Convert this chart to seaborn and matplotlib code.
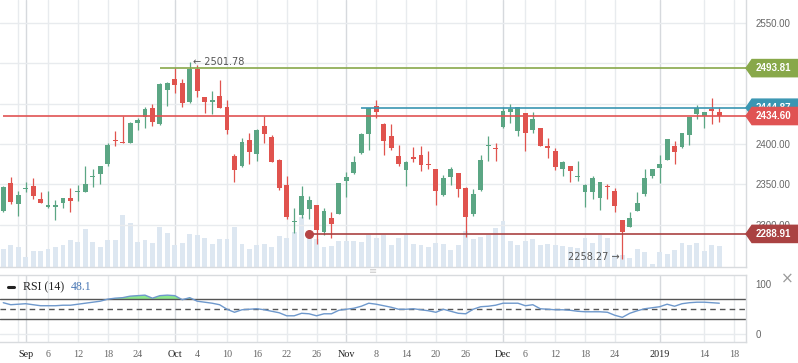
import numpy as np
import pandas as pd
import seaborn as sns
import matplotlib.pyplot as plt
from matplotlib.lines import Line2D
from matplotlib.patches import Polygon

# daily candles, one per trading day (Aug 29 2018 .. Jan 16 2019)
opens = [2316.9, 2352.3, 2326.3, 2344.0, 2348.6, 2332.5, 2321.8, 2321.8, 2326.8, 2333.7,
         2340.8, 2340.3, 2358.9, 2362.6, 2374.9, 2404.9, 2402.5, 2401.6, 2426.3, 2433.3,
         2444.9, 2424.3, 2466.3, 2480.7, 2475.7, 2451.4, 2493.0, 2458.4, 2451.4, 2459.7,
         2446.1, 2385.6, 2372.4, 2404.9, 2387.2, 2422.6, 2409.0, 2380.7, 2349.8, 2304.1,
         2311.9, 2319.3, 2325.1, 2290.9, 2309.1, 2313.2, 2353.9, 2364.6, 2388.5, 2411.9,
         2447.3, 2425.1, 2410.3, 2385.6, 2367.5, 2384.4, 2386.8, 2375.7, 2369.5, 2336.6,
         2358.9, 2364.6, 2346.1, 2313.2, 2342.8, 2397.5, 2394.2, 2420.6, 2439.9, 2416.5,
         2438.7, 2416.9, 2420.2, 2397.9, 2391.8, 2368.7, 2373.3, 2359.3, 2341.2, 2340.3,
         2332.9, 2347.3, 2342.4, 2306.6, 2297.1, 2316.9, 2337.9, 2360.1, 2370.0, 2379.8,
         2397.9, 2395.9, 2410.7, 2436.6, 2435.0, 2443.6, 2439.9]
highs = [2348.0, 2359.7, 2342.4, 2353.5, 2358.4, 2341.2, 2342.4, 2331.3, 2333.7, 2345.7,
         2349.8, 2373.3, 2369.5, 2373.3, 2401.6, 2416.5, 2434.6, 2427.0, 2432.5, 2445.7,
         2449.4, 2475.0, 2476.5, 2493.8, 2480.7, 2501.78, 2497.1, 2458.4, 2465.8, 2478.6,
         2454.7, 2388.1, 2407.8, 2413.6, 2418.9, 2434.2, 2411.5, 2381.9, 2360.9, 2321.4,
         2348.6, 2336.2, 2325.1, 2321.4, 2316.5, 2352.3, 2365.8, 2385.6, 2414.0, 2444.4,
         2454.7, 2425.9, 2425.1, 2399.2, 2379.4, 2396.7, 2397.9, 2391.8, 2369.5, 2362.1,
         2372.0, 2364.6, 2346.5, 2344.9, 2386.8, 2410.3, 2401.6, 2445.7, 2449.4, 2446.1,
         2438.7, 2439.9, 2420.2, 2407.8, 2395.5, 2379.4, 2373.3, 2379.4, 2351.0, 2360.9,
         2353.5, 2351.0, 2346.1, 2306.6, 2316.5, 2341.2, 2369.5, 2369.5, 2386.8, 2406.6,
         2404.1, 2414.0, 2433.7, 2448.6, 2440.0, 2457.2, 2445.7]
lows = [2316.0, 2326.3, 2310.7, 2340.3, 2332.5, 2326.8, 2320.6, 2305.8, 2320.6, 2315.6,
        2329.2, 2340.3, 2346.5, 2350.2, 2372.4, 2397.1, 2401.2, 2401.0, 2417.7, 2420.2,
        2421.8, 2423.0, 2446.5, 2462.5, 2445.3, 2451.0, 2458.4, 2437.9, 2436.6, 2444.0,
        2411.9, 2352.7, 2372.0, 2374.9, 2378.6, 2400.8, 2377.4, 2342.8, 2307.0, 2289.7,
        2308.2, 2307.0, 2276.1, 2287.2, 2283.5, 2313.0, 2334.2, 2363.4, 2387.2, 2392.2,
        2431.7, 2386.0, 2392.2, 2373.3, 2347.7, 2377.4, 2366.3, 2368.7, 2324.3, 2336.0,
        2349.0, 2334.2, 2284.8, 2310.7, 2342.0, 2378.6, 2378.6, 2420.0, 2426.3, 2409.5,
        2391.8, 2413.2, 2397.1, 2382.3, 2367.5, 2360.0, 2352.7, 2354.7, 2321.8, 2331.7,
        2318.1, 2331.7, 2315.6, 2258.27, 2297.0, 2316.9, 2335.4, 2357.6, 2351.4, 2379.8,
        2374.9, 2394.7, 2398.4, 2430.5, 2419.3, 2424.3, 2426.7]
closes = [2347.3, 2328.0, 2337.4, 2344.8, 2335.4, 2326.8, 2325.1, 2325.1, 2333.7, 2329.2,
          2341.6, 2351.0, 2360.9, 2373.3, 2399.2, 2404.0, 2401.2, 2426.3, 2430.0, 2443.6,
          2427.6, 2474.5, 2475.7, 2472.4, 2450.2, 2493.0, 2465.0, 2451.4, 2454.7, 2444.0,
          2417.7, 2367.5, 2402.5, 2389.7, 2417.7, 2411.9, 2378.2, 2345.3, 2309.5, 2305.0,
          2336.2, 2331.3, 2293.4, 2317.7, 2300.8, 2352.3, 2359.7, 2378.2, 2412.8, 2444.4,
          2439.1, 2403.3, 2394.7, 2374.9, 2378.2, 2381.9, 2373.7, 2373.7, 2341.6, 2358.4,
          2369.5, 2344.0, 2309.5, 2338.7, 2380.7, 2398.4, 2393.4, 2441.2, 2443.6, 2446.1,
          2413.2, 2431.3, 2397.1, 2394.7, 2371.2, 2378.2, 2366.3, 2360.1, 2349.8, 2358.4,
          2353.5, 2346.5, 2323.0, 2290.9, 2309.1, 2327.6, 2358.4, 2369.5, 2375.7, 2406.6,
          2389.7, 2414.0, 2433.7, 2444.9, 2439.9, 2440.3, 2434.6]
volume = [55, 67, 61, 31, 49, 49, 55, 61, 67, 82, 76, 115, 76, 61, 82, 82, 157, 133, 76, 82,
          73, 121, 103, 67, 73, 100, 97, 88, 70, 85, 85, 121, 70, 55, 67, 70, 61, 94, 88, 106,
          151, 91, 85, 61, 64, 79, 79, 79, 76, 97, 88, 97, 67, 88, 97, 70, 67, 61, 73, 70,
          52, 67, 109, 85, 91, 97, 118, 139, 79, 67, 79, 85, 67, 70, 67, 64, 61, 58, 88, 73,
          97, 88, 37, 37, 28, 55, 46, 10, 46, 40, 52, 73, 67, 73, 49, 67, 64]
rsi = [63, 59, 60, 61, 59, 57, 57, 57, 58, 58, 60, 62, 64, 66, 70, 72, 73, 76, 77, 78,
       72, 77, 78, 77, 69, 73, 66, 64, 62, 59, 50, 44, 49, 50, 51, 49, 46, 43, 37, 37,
       42, 41, 37, 41, 41, 48, 50, 52, 56, 62, 60, 57, 54, 50, 50, 51, 49, 47, 44, 50,
       46, 42, 41, 50, 55, 56, 58, 62, 62, 62, 57, 59, 51, 50, 49, 49, 48, 46, 45, 45,
       45, 44, 38, 34, 42, 47, 51, 53, 55, 60, 56, 61, 63, 64, 64, 63, 62]

# x axis labels and the candle they sit on
tick_pos = [2, 3, 6, 10, 14, 18, 23, 26, 30, 34, 38, 42, 46, 50, 54, 58, 62, 67, 70, 74, 78, 82, 88, 94, 98]
tick_labels = ['', 'Sep', '6', '12', '18', '24', 'Oct', '4', '10', '16', '22', '26', 'Nov', '8',
               '14', '20', '26', 'Dec', '6', '12', '18', '24', '2019', '14', '18']
month_labels = ['Sep', 'Oct', 'Nov', 'Dec', '2019']

# price axis: the 2450 / 2500 labels sit under the level tags
price_ticks = [2300, 2350, 2400, 2450, 2500, 2550]
price_tick_labels = ['2300.00', '2350.00', '2400.00', '', '', '2550.00']

# horizontal price levels
level_prices = [2493.81, 2444.87, 2434.60, 2288.91]
level_start = [21, 48, 0, 41]
level_colors = ['#88a84a', '#3a96b2', '#e05353', '#aa4242']

GREEN = '#5ba684'
RED = '#e0534e'
GRID = '#e8ebee'
W, H = 798, 363

df = pd.DataFrame({'open': opens, 'high': highs, 'low': lows, 'close': closes,
                   'volume': volume, 'rsi': rsi})
df['i'] = np.arange(len(df))

sns.set_style('white')
plt.rcParams['font.family'] = ['Liberation Sans', 'DejaVu Sans']

fig = plt.figure(figsize=(W / 100, H / 100), dpi=100)
ax = fig.add_axes([0, 1 - 267 / H, 746 / W, 267 / H])
rax = fig.add_axes([0, 1 - 342 / H, 746 / W, 67 / H], sharex=ax)

# volume behind the candles
vax = ax.twinx()
ax.set_zorder(vax.get_zorder() + 1)
ax.patch.set_visible(False)
vax.bar(df['i'], df['volume'], width=0.65, color='#dde7f1', linewidth=0)
vax.set_ylim(0, 801)
vax.set_yticks([])
for s in vax.spines.values():
    s.set_visible(False)

xmin, xmax = -0.44, 99.58
ax.set_xlim(xmin, xmax)
ax.set_ylim(2248, 2578)

# grid
for p, lab in zip(tick_pos, tick_labels):
    c = '#d6d9dd' if lab in month_labels else GRID
    vax.axvline(p, color=c, lw=1, zorder=0)
    rax.axvline(p, color=c, lw=1, zorder=0)
ax.set_yticks(price_ticks)
ax.set_yticklabels(price_tick_labels)
ax.grid(axis='y', color=GRID, lw=1)
ax.set_axisbelow(True)

# candles
up = df['close'] >= df['open']
colors = np.where(up, GREEN, RED)
ax.vlines(df['i'], df['low'], df['high'], colors=colors, lw=0.9, zorder=3)
body = (df['close'] - df['open']).abs().clip(lower=1.3)
ax.bar(df['i'], body, bottom=df[['open', 'close']].min(axis=1), width=0.65,
       color=colors, linewidth=0, zorder=4)

# price levels with tags on the right (later tags cover earlier ones)
tr = ax.get_yaxis_transform()
h = 8.6 / 0.809
for k, (price, start, col) in enumerate(zip(level_prices, level_start, level_colors)):
    ax.hlines(price, start, xmax, color=col, lw=1.2, zorder=5)
    pts = [(1.0, price), (1 + 6 / 746, price + h), (1 + 52 / 746, price + h),
           (1 + 52 / 746, price - h), (1 + 6 / 746, price - h)]
    ax.add_patch(Polygon(pts, closed=True, transform=tr, color=col, clip_on=False,
                         zorder=6 + 2 * k))
    ax.text(1 + 27 / 746, price, '%.2f' % price, transform=tr, color='white', fontsize=7,
            fontweight='bold', ha='center', va='center', clip_on=False, zorder=7 + 2 * k)
ax.plot(level_start[3], level_prices[3], 'o', color='#b54545', ms=5.5, zorder=6)

hi = int(np.argmax(highs))
lo = int(np.argmin(lows))
ax.annotate('\u2190 %.2f' % highs[hi], xy=(hi, highs[hi]), xytext=(2.5, 0),
            textcoords='offset points', ha='left', va='center', color='#555', fontsize=7,
            family=['DejaVu Sans'], zorder=7)
ax.annotate('%.2f \u2192' % lows[lo], xy=(lo, lows[lo]), xytext=(-2, 1),
            textcoords='offset points', ha='right', va='center', color='#555', fontsize=7,
            family=['DejaVu Sans'], zorder=7)

ax.yaxis.tick_right()
ax.tick_params(axis='y', length=0, pad=7, labelcolor='#666', labelsize=7)
ax.tick_params(axis='x', length=0, labelbottom=False)
ax.spines['top'].set_visible(False)
ax.spines['left'].set_visible(False)
for s in ['right', 'bottom']:
    ax.spines[s].set_color('#d8dbde')
    ax.spines[s].set_linewidth(1)

# RSI panel
rax.fill_between(df['i'], 70, df['rsi'], where=df['rsi'] > 70, interpolate=True,
                 color='#8de88d', lw=0, zorder=1)
sns.lineplot(x=df['i'], y=df['rsi'], ax=rax, color='#6e98cc', lw=1, zorder=3)
rax.axhline(70, color='#555', lw=1, zorder=2)
rax.axhline(30, color='#555', lw=1, zorder=2)
rax.axhline(50, color='#555', lw=1, ls=(0, (4, 3)), zorder=2)
rax.axhline(0, color=GRID, lw=1, zorder=0)
rax.set_ylim(-15, 118)
rax.set_yticks([0, 100])
rax.yaxis.tick_right()
rax.set_xlabel('')
rax.set_ylabel('')
rax.tick_params(axis='y', length=0, pad=7, labelcolor='#666', labelsize=7)
rax.set_xticks(tick_pos)
rax.set_xticklabels(tick_labels)
rax.tick_params(axis='x', length=0, pad=6, labelsize=7.3)
for lab in rax.get_xticklabels():
    lab.set_family('Liberation Serif')
    lab.set_color('#222' if lab.get_text() in month_labels else '#666')
rax.set_xlim(xmin, xmax)
rax.spines['left'].set_visible(False)
for s in ['right', 'top', 'bottom']:
    rax.spines[s].set_color('#d8dbde')
    rax.spines[s].set_linewidth(1)

# RSI legend and panel decorations
fig.add_artist(Line2D([8 / W, 14 / W], [1 - 287 / H] * 2, color='#222', lw=2.2,
                      transform=fig.transFigure))
fig.text(23 / W, 1 - 287 / H, 'RSI (14)', family='Liberation Serif', fontsize=8.6,
         color='#222', va='center')
fig.text(71 / W, 1 - 287 / H, '48.1', family='Liberation Serif', fontsize=8.6,
         color='#4a78b5', va='center')
fig.text(787 / W, 1 - 279 / H, '\u00d7', color='#9a9a9a', fontsize=11, ha='center',
         va='center', family='DejaVu Sans')
fig.text(373 / W, 1 - 271 / H, '\u2261', color='#cccccc', fontsize=7, ha='center',
         va='center', family='DejaVu Sans')

fig.savefig('out.png', dpi=100, facecolor='white')
